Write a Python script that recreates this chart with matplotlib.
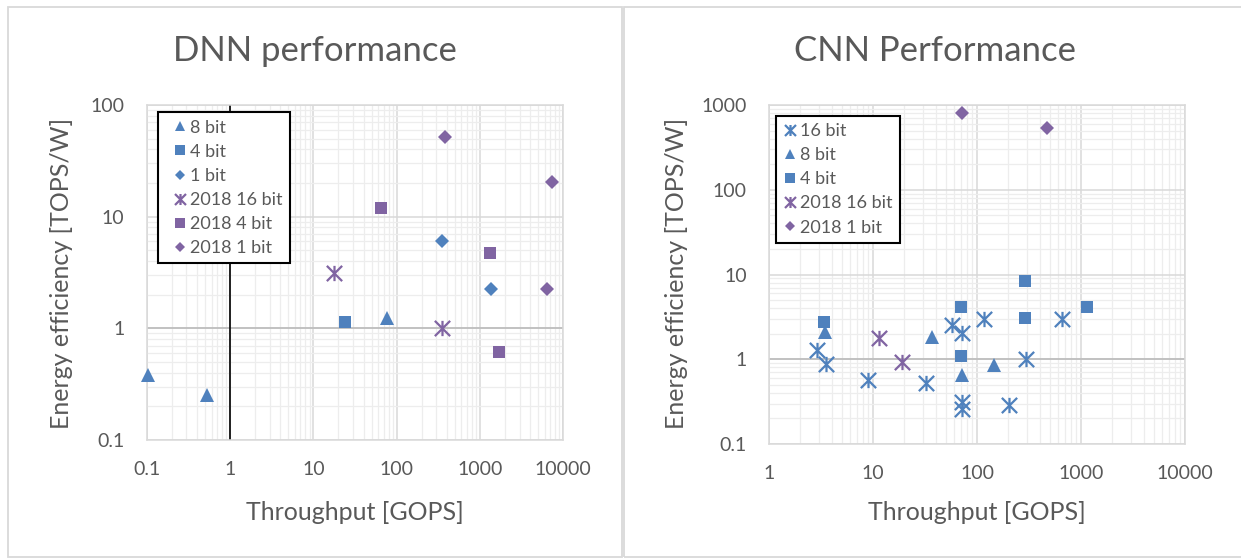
import matplotlib
matplotlib.use("Agg")
import matplotlib.pyplot as plt
from matplotlib import ticker
from matplotlib.patches import Rectangle
from matplotlib.path import Path

# DNN accelerators: throughput [GOPS] vs energy efficiency [TOPS/W]
dnn_8bit_x = [0.105, 0.53, 77]
dnn_8bit_y = [0.38, 0.255, 1.24]
dnn_4bit_x = [24.3]
dnn_4bit_y = [1.15]
dnn_1bit_x = [350, 1360]
dnn_1bit_y = [6.0, 2.25]
dnn_2018_16bit_x = [17.5, 350]
dnn_2018_16bit_y = [3.1, 1.0]
dnn_2018_4bit_x = [65, 1330, 1670]
dnn_2018_4bit_y = [11.9, 4.7, 0.62]
dnn_2018_1bit_x = [377, 7280, 6350]
dnn_2018_1bit_y = [52, 20.5, 2.25]

# CNN accelerators
cnn_16bit_x = [2.87, 3.5, 9.0, 32, 57, 72, 116, 72, 72, 203, 296, 662]
cnn_16bit_y = [1.28, 0.87, 0.57, 0.52, 2.53, 2.03, 2.95, 0.31, 0.26, 0.29, 1.0, 2.95]
cnn_8bit_x = [3.48, 37, 72, 145]
cnn_8bit_y = [2.1, 1.84, 0.65, 0.86]
cnn_4bit_x = [3.4, 70, 70, 290, 290, 1130]
cnn_4bit_y = [2.77, 4.1, 1.08, 8.3, 3.03, 4.1]
cnn_2018_16bit_x = [11.4, 19.0]
cnn_2018_16bit_y = [1.76, 0.93]
cnn_2018_1bit_x = [72, 474]
cnn_2018_1bit_y = [800, 530]

BLUE = "#4F81BD"
PURPLE = "#8064A2"
TEXT = "#595959"

plt.rcParams["font.family"] = ["Lato", "DejaVu Sans"]

# excel-style asterisk: an X with a vertical bar through it
STAR = Path([(-1, -1), (1, 1), (-1, 1), (1, -1), (0, -1), (0, 1)],
            [Path.MOVETO, Path.LINETO] * 3)

W, H = 1241, 559
fig = plt.figure(figsize=(W / 100, H / 100), dpi=100)

# chart-area borders
for x0, x1 in [(8, 622), (624, 1250)]:
    fig.add_artist(Rectangle((x0 / W, 1 - 557 / H), (x1 - x0) / W, 550 / H,
                             transform=fig.transFigure, fill=False,
                             ec="#D9D9D9", lw=1.3))


def px_axes(left, top, right, bottom):
    return fig.add_axes([left / W, 1 - bottom / H, (right - left) / W, (bottom - top) / H])


def style(ax, xlim, ylim):
    ax.set_xscale("log")
    ax.set_yscale("log")
    ax.set_xlim(*xlim)
    ax.set_ylim(*ylim)
    fmt = ticker.FuncFormatter(lambda v, _: f"{v:g}")
    ax.xaxis.set_major_locator(ticker.LogLocator(base=10, numticks=10))
    ax.yaxis.set_major_locator(ticker.LogLocator(base=10, numticks=10))
    ax.xaxis.set_minor_locator(ticker.LogLocator(base=10, subs=range(2, 10), numticks=10))
    ax.yaxis.set_minor_locator(ticker.LogLocator(base=10, subs=range(2, 10), numticks=10))
    ax.xaxis.set_major_formatter(fmt)
    ax.yaxis.set_major_formatter(fmt)
    ax.xaxis.set_minor_formatter(ticker.NullFormatter())
    ax.yaxis.set_minor_formatter(ticker.NullFormatter())
    ax.tick_params(which="both", length=0, labelsize=14, labelcolor=TEXT)
    ax.tick_params(axis="x", pad=15)
    ax.tick_params(axis="y", pad=16)
    ax.grid(which="minor", color="#EDEDED", lw=0.9)
    ax.grid(which="major", color="#D9D9D9", lw=1.1)
    ax.set_axisbelow(True)
    for s in ax.spines.values():
        s.set_color("#D9D9D9")
        s.set_linewidth(1.1)
    ax.axhline(1, color="#BFBFBF", lw=1.3, zorder=1.5)


def series(ax, x, y, marker, color, label, ms):
    if marker is STAR:
        ax.plot(x, y, ls="none", marker=STAR, ms=ms, mfc="none", mec=color,
                mew=1.6, label=label, zorder=3, clip_on=False)
    else:
        ax.plot(x, y, ls="none", marker=marker, ms=ms, mfc=color, mec=color,
                mew=0, label=label, zorder=3, clip_on=False)


def legend(ax, x, y, w, hlen, hpad):
    # box stretched to a fixed width, entries stay left-aligned
    leg = ax.legend(loc="upper left", bbox_to_anchor=(x, y - 0.5, w, 0.5),
                    mode="expand", borderaxespad=0,
                    fontsize=13, labelcolor=TEXT, fancybox=False, framealpha=1,
                    edgecolor="black", markerscale=0.72, handlelength=hlen,
                    handletextpad=hpad, labelspacing=0.45, borderpad=0.4)
    leg.get_frame().set_linewidth(1.5)
    leg.set_zorder(10)


# DNN panel
ax1 = px_axes(146.7, 105, 563.3, 440)
style(ax1, (0.1, 10000), (0.1, 100))
ax1.axvline(1, color="black", lw=1.2, zorder=2)
series(ax1, dnn_8bit_x, dnn_8bit_y, "^", BLUE, "8 bit", 10.5)
series(ax1, dnn_4bit_x, dnn_4bit_y, "s", BLUE, "4 bit", 9.3)
series(ax1, dnn_1bit_x, dnn_1bit_y, "D", BLUE, "1 bit", 7.5)
series(ax1, dnn_2018_16bit_x, dnn_2018_16bit_y, STAR, PURPLE, "2018 16 bit", 11)
series(ax1, dnn_2018_4bit_x, dnn_2018_4bit_y, "s", PURPLE, "2018 4 bit", 9.3)
series(ax1, dnn_2018_1bit_x, dnn_2018_1bit_y, "D", PURPLE, "2018 1 bit", 7.5)
legend(ax1, 0.028, 0.978, 0.316, 1.6, -0.25)

# CNN panel
ax2 = px_axes(769, 105, 1185, 444)
style(ax2, (1, 10000), (0.1, 1000))
series(ax2, cnn_16bit_x, cnn_16bit_y, STAR, BLUE, "16 bit", 11)
series(ax2, cnn_8bit_x, cnn_8bit_y, "^", BLUE, "8 bit", 10.5)
series(ax2, cnn_4bit_x, cnn_4bit_y, "s", BLUE, "4 bit", 9.3)
series(ax2, cnn_2018_16bit_x, cnn_2018_16bit_y, STAR, PURPLE, "2018 16 bit", 11)
series(ax2, cnn_2018_1bit_x, cnn_2018_1bit_y, "D", PURPLE, "2018 1 bit", 7.5)
legend(ax2, 0.017, 0.968, 0.298, 0.75, 0.15)

# titles and axis labels
fig.text(315 / W, 1 - 51 / H, "DNN performance", ha="center", va="center",
         fontsize=25, color=TEXT)
fig.text(935 / W, 1 - 51 / H, "CNN Performance", ha="center", va="center",
         fontsize=25, color=TEXT)
for cx, ylx in [(355, 62), (977, 676)]:
    fig.text(cx / W, 1 - 512 / H, "Throughput [GOPS]", ha="center", va="center",
             fontsize=18, color=TEXT)
    fig.text(ylx / W, 1 - 273 / H, "Energy efficiency [TOPS/W]", ha="center",
             va="center", rotation=90, fontsize=18, color=TEXT)

fig.savefig("out.png", dpi=100)
